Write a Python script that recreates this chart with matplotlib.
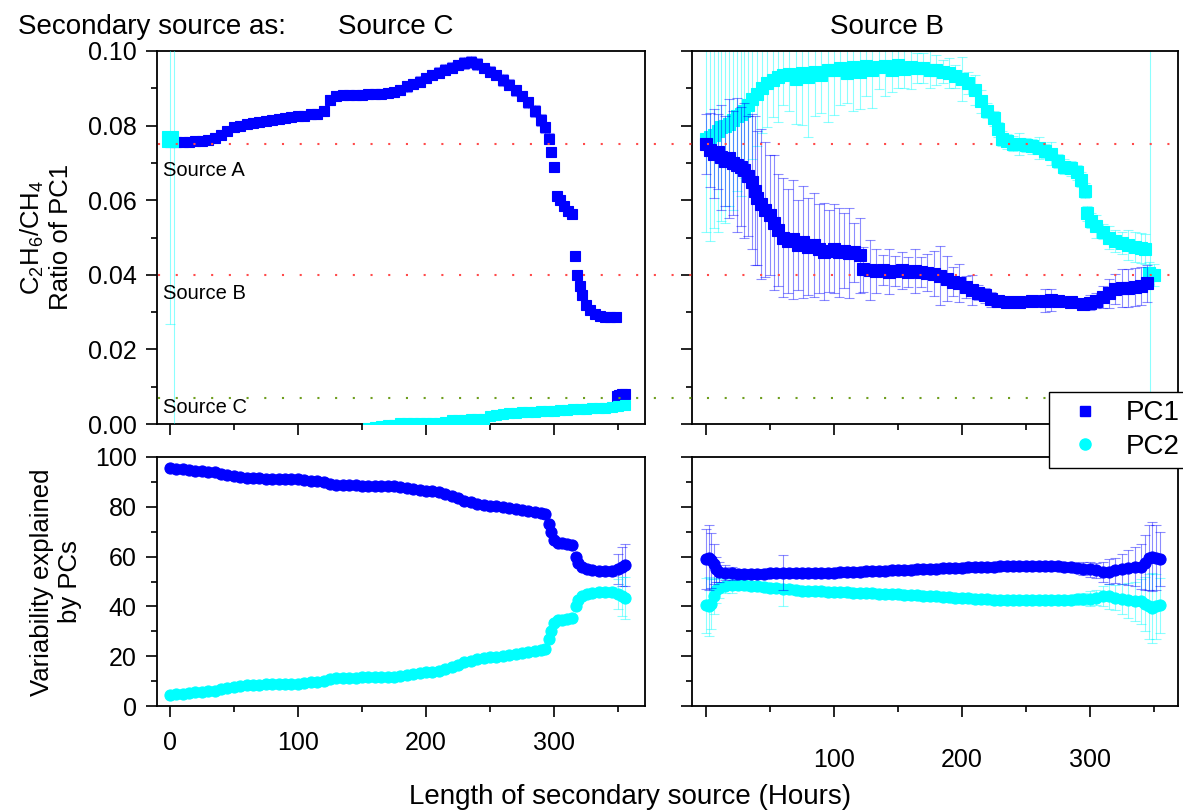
import numpy as np
import matplotlib
matplotlib.use('Agg')
import matplotlib.pyplot as plt
from matplotlib.ticker import MultipleLocator, FormatStrFormatter, FixedLocator, FixedFormatter
from matplotlib import transforms
from matplotlib.lines import Line2D

plt.rcParams['font.family'] = ['Liberation Sans', 'DejaVu Sans']
plt.rcParams['mathtext.fontset'] = 'custom'
plt.rcParams['mathtext.rm'] = 'Liberation Sans'
plt.rcParams['mathtext.it'] = 'Liberation Sans:italic'

# ---------------- data ----------------
panel_titles = ['Source C', 'Source B']
ref_values = [0.075, 0.040, 0.007]
ref_labels = ['Source A', 'Source B', 'Source C']
ref_colors = ['#FF4A4A', '#FF4A4A', '#6E9E1E']
legend_labels = ['PC1', 'PC2']

# top-left: secondary source = Source C
tl_pc1_x = [0, 5, 10, 15, 20, 25, 30, 35, 40, 45, 50, 55, 60, 65, 70, 75, 80, 85, 90, 95,
            100, 105, 110, 115, 120, 125, 130, 135, 140, 145, 150, 155, 160, 165, 170, 175, 180, 185, 190, 195,
            200, 205, 210, 215, 220, 225, 230, 235, 240, 245, 250, 255, 260, 265, 270, 275, 280, 285, 290,
            293, 296, 298, 300, 302, 305, 308, 311, 314, 316, 318, 320, 322, 325, 328, 332, 336, 340, 344, 348,
            349, 351, 353, 355]
tl_pc1_y = [0.0755, 0.0755, 0.0756, 0.0757, 0.0758, 0.0760, 0.0762, 0.0768, 0.0775, 0.0785, 0.0795, 0.0800,
            0.0805, 0.0808, 0.0810, 0.0813, 0.0815, 0.0818, 0.0820, 0.0823, 0.0825, 0.0827, 0.0830, 0.0832,
            0.0840, 0.0868, 0.0880, 0.0883, 0.0882, 0.0881, 0.0882, 0.0884, 0.0885, 0.0886, 0.0888, 0.0890,
            0.0895, 0.0905, 0.0912, 0.0918, 0.0928, 0.0935, 0.0942, 0.0950, 0.0955, 0.0962, 0.0968, 0.0970,
            0.0965, 0.0955, 0.0945, 0.0935, 0.0922, 0.0910, 0.0895, 0.0880, 0.0862, 0.0840, 0.0815,
            0.0795, 0.0765, 0.0730, 0.0690, 0.0610, 0.0600, 0.0585, 0.0570, 0.0562, 0.0450, 0.0400, 0.0370,
            0.0345, 0.0320, 0.0305, 0.0295, 0.0290, 0.0288, 0.0287, 0.0286,
            0.0075, 0.0078, 0.0080, 0.0080]
tl_pc1_err = [0.0008, 0.0008, 0.0009, 0.0008, 0.0010, 0.0009, 0.0010, 0.0011, 0.0012, 0.0011, 0.0012, 0.0012,
              0.0011, 0.0012, 0.0010, 0.0011, 0.0012, 0.0010, 0.0011, 0.0012, 0.0011, 0.0012, 0.0012, 0.0013,
              0.0013, 0.0014, 0.0012, 0.0011, 0.0012, 0.0011, 0.0012, 0.0011, 0.0012, 0.0012, 0.0011, 0.0012,
              0.0013, 0.0014, 0.0013, 0.0014, 0.0013, 0.0014, 0.0015, 0.0014, 0.0015, 0.0014, 0.0015, 0.0016,
              0.0015, 0.0014, 0.0015, 0.0014, 0.0015, 0.0014, 0.0015, 0.0014, 0.0015, 0.0016, 0.0015,
              0.0015, 0.0014, 0.0012, 0.0010, 0.0010, 0.0010, 0.0010, 0.0010, 0.0009, 0.0008, 0.0008, 0.0008,
              0.0008, 0.0008, 0.0008, 0.0008, 0.0008, 0.0008, 0.0008, 0.0008,
              0.0006, 0.0006, 0.0006, 0.0006]

tl_pc2_x = [0, 3, 155, 160, 165, 170, 175, 180, 185, 190, 195, 200, 205, 210, 215, 220, 225, 230, 235, 240,
            245, 250, 255, 260, 265, 270, 275, 280, 285, 290, 295, 300, 305, 310, 315, 320, 325, 330, 335,
            340, 345, 350, 355]
tl_pc2_y = [0.0765, -0.0200, -0.0010, -0.0008, -0.0006, -0.0004, -0.0002, 0.0002, 0.0002, 0.0003, 0.0003,
            0.0003, 0.0004, 0.0004, 0.0005, 0.0010, 0.0011, 0.0012, 0.0013, 0.0013, 0.0013, 0.0022, 0.0025,
            0.0027, 0.0029, 0.0030, 0.0031, 0.0032, 0.0033, 0.0034, 0.0035, 0.0036, 0.0037, 0.0038, 0.0039,
            0.0040, 0.0041, 0.0042, 0.0043, 0.0044, 0.0046, 0.0049, 0.0051]
tl_pc2_err = [0.0498, 0.2000, 0.0003, 0.0003, 0.0003, 0.0003, 0.0003, 0.0003, 0.0003, 0.0003, 0.0003,
              0.0003, 0.0003, 0.0003, 0.0003, 0.0003, 0.0003, 0.0003, 0.0003, 0.0003, 0.0003, 0.0003, 0.0003,
              0.0003, 0.0003, 0.0003, 0.0003, 0.0003, 0.0003, 0.0003, 0.0003, 0.0003, 0.0003, 0.0003, 0.0003,
              0.0003, 0.0003, 0.0003, 0.0003, 0.0003, 0.0003, 0.0003, 0.0003]

# top-right: secondary source = Source B
tr_pc1_x = [0, 3, 6, 9, 12, 15, 18, 21, 24, 27, 30, 33, 36,
            38, 40, 43, 46, 50, 53, 56,
            60, 64, 68, 72, 76, 80, 84, 88, 92, 96, 100, 104, 108, 112, 116, 120,
            123,
            128, 133, 138, 143, 148, 153, 158, 163, 168, 173, 178, 183, 188, 193, 198, 203, 208, 213, 218, 223, 228,
            235, 245, 255, 265, 270, 275, 285, 295,
            300, 305, 310, 315, 320, 325, 330, 335, 340, 345]
tr_pc1_y = [0.0750, 0.0735, 0.0725, 0.0730, 0.0715, 0.0705, 0.0712, 0.0700, 0.0695, 0.0690, 0.0680, 0.0665, 0.0650,
            0.0625, 0.0605, 0.0590, 0.0575, 0.0560, 0.0540, 0.0520,
            0.0500, 0.0490, 0.0495, 0.0480, 0.0488, 0.0475, 0.0480, 0.0470, 0.0462, 0.0465, 0.0470, 0.0460,
            0.0465, 0.0458, 0.0460, 0.0452,
            0.0415,
            0.0412, 0.0410, 0.0412, 0.0408, 0.0410, 0.0412, 0.0408, 0.0410, 0.0408, 0.0406, 0.0403, 0.0398,
            0.0390, 0.0382, 0.0378, 0.0368, 0.0360, 0.0352, 0.0345, 0.0335, 0.0330,
            0.0328, 0.0328, 0.0330, 0.0331, 0.0332, 0.0330, 0.0328, 0.0323,
            0.0325, 0.0330, 0.0340, 0.0350, 0.0362, 0.0365, 0.0365, 0.0367, 0.0370, 0.0377]
tr_pc1_err = [0.008, 0.010, 0.012, 0.010, 0.014, 0.012, 0.016, 0.014, 0.018, 0.016, 0.018, 0.016, 0.018,
              0.020, 0.018, 0.020, 0.018, 0.016, 0.018, 0.015,
              0.016, 0.014, 0.016, 0.012, 0.015, 0.013, 0.014, 0.012, 0.013, 0.011, 0.012, 0.012, 0.010,
              0.012, 0.008, 0.010,
              0.006,
              0.008, 0.006, 0.004, 0.006, 0.004, 0.005, 0.004, 0.006, 0.004, 0.005, 0.006, 0.008, 0.006,
              0.004, 0.005, 0.003, 0.004, 0.002, 0.002, 0.002, 0.001,
              0.001, 0.001, 0.001, 0.003, 0.003, 0.001, 0.001, 0.001,
              0.002, 0.002, 0.003, 0.004, 0.004, 0.005, 0.005, 0.005, 0.005, 0.005]

tr_pc2_x = [0, 3, 6, 9, 12, 15, 18, 21, 24, 27, 30, 33, 36,
            40, 44, 48, 52, 56,
            60, 65, 70, 75, 80, 85, 90, 95, 100, 105, 110, 115, 120, 125, 130, 135, 140, 145, 150, 155,
            160, 165, 170, 175, 180, 185, 190, 195, 200, 205, 210, 215, 220, 225,
            228, 231,
            235, 240, 245, 250, 255, 260, 265, 270, 275, 280, 285, 290,
            293, 296, 298, 301,
            305, 310, 315, 320, 325, 330, 335, 340,
            343, 346, 347, 350]
tr_pc2_y = [0.0765, 0.0770, 0.0775, 0.0785, 0.0795, 0.0800, 0.0805, 0.0815, 0.0825, 0.0830, 0.0840, 0.0855, 0.0870,
            0.0885, 0.0900, 0.0915, 0.0922, 0.0930,
            0.0935, 0.0938, 0.0925, 0.0942, 0.0930, 0.0945, 0.0935, 0.0950, 0.0948, 0.0955, 0.0940, 0.0958,
            0.0945, 0.0960, 0.0948, 0.0958, 0.0960, 0.0950, 0.0962, 0.0952, 0.0958, 0.0955, 0.0955, 0.0950,
            0.0948, 0.0945, 0.0940, 0.0932, 0.0925, 0.0915, 0.0895, 0.0865, 0.0840, 0.0820,
            0.0790, 0.0765,
            0.0758, 0.0752, 0.0750, 0.0748, 0.0745, 0.0740, 0.0732, 0.0725, 0.0705, 0.0690, 0.0685, 0.0675,
            0.0655, 0.0625, 0.0565, 0.0545,
            0.0530, 0.0515, 0.0500, 0.0490, 0.0485, 0.0480, 0.0475, 0.0472,
            0.0470, 0.0405, 0.0400, 0.0400]
tr_pc2_err = [0.025, 0.028, 0.025, 0.027, 0.025, 0.026, 0.022, 0.024, 0.020, 0.022, 0.018, 0.020, 0.016,
              0.014, 0.012, 0.012, 0.010, 0.012,
              0.008, 0.010, 0.012, 0.014, 0.016, 0.012, 0.010, 0.014, 0.012, 0.010, 0.008, 0.012, 0.010,
              0.008, 0.010, 0.006, 0.008, 0.006, 0.006, 0.005, 0.006, 0.004, 0.004, 0.005, 0.004, 0.003,
              0.004, 0.003, 0.006, 0.003, 0.004, 0.003, 0.002, 0.002,
              0.002, 0.002,
              0.002, 0.002, 0.003, 0.002, 0.002, 0.003, 0.002, 0.003, 0.002, 0.002, 0.002, 0.002,
              0.002, 0.002, 0.002, 0.002,
              0.003, 0.002, 0.003, 0.003, 0.003, 0.004, 0.004, 0.004,
              0.004, 0.003, 0.120, 0.003]

# bottom-left: variability explained, Source C
bl_x = [0, 5, 10, 15, 20, 25, 30, 35, 40, 45, 50, 55, 60, 65, 70, 75, 80, 85, 90, 95,
        100, 105, 110, 115, 120, 125, 130, 135, 140, 145, 150, 155, 160, 165, 170, 175, 180, 185, 190, 195,
        200, 205, 210, 215, 220, 225, 230, 235, 240, 245, 250, 255, 260, 265, 270, 275, 280, 285, 290,
        293, 296, 298, 300, 303, 306, 310, 314, 317, 319, 322, 326, 330, 335, 340, 345, 350, 353, 355]
bl_pc1 = [95.5, 95.3, 95.0, 94.8, 94.5, 94.3, 94.0, 93.8, 93.2, 92.8, 92.3, 91.8, 91.5, 91.5, 91.4, 91.3,
          91.3, 91.2, 91.2, 91.1, 91.0, 90.8, 90.5, 90.3, 90.0, 89.2, 88.8, 88.7, 88.6, 88.6, 88.5, 88.5,
          88.5, 88.4, 88.4, 88.2, 88.0, 87.5, 87.2, 86.8, 86.5, 86.2, 85.8, 85.2, 84.5, 83.5, 82.5, 81.8,
          81.2, 80.8, 80.5, 80.2, 80.0, 79.5, 79.0, 78.8, 78.5, 78.0, 77.5,
          77.0, 73.0, 70.0, 66.5, 65.5, 65.3, 65.0, 64.5, 60.0, 57.5, 56.0, 55.0, 54.5, 54.3, 54.2, 54.3,
          55.0, 56.0, 56.5]
bl_pc2 = [4.5, 4.7, 5.0, 5.2, 5.5, 5.7, 6.0, 6.2, 6.8, 7.2, 7.7, 8.2, 8.5, 8.5, 8.6, 8.7,
          8.7, 8.8, 8.8, 8.9, 9.0, 9.2, 9.5, 9.7, 10.0, 10.8, 11.2, 11.3, 11.4, 11.4, 11.5, 11.5,
          11.5, 11.6, 11.6, 11.8, 12.0, 12.5, 12.8, 13.2, 13.5, 13.8, 14.2, 14.8, 15.5, 16.5, 17.5, 18.2,
          18.8, 19.2, 19.5, 19.8, 20.0, 20.5, 21.0, 21.2, 21.5, 22.0, 22.5,
          23.0, 27.0, 30.0, 33.5, 34.5, 34.7, 35.0, 35.5, 40.0, 42.5, 44.0, 45.0, 45.5, 45.7, 45.8, 45.7,
          45.0, 44.0, 43.5]
bl_err = [0.4, 0.4, 0.4, 0.4, 0.4, 0.4, 0.4, 0.4, 0.4, 0.4, 0.4, 0.4, 0.4, 0.4, 0.4, 0.4,
          0.4, 0.4, 0.4, 0.4, 0.4, 0.4, 0.4, 0.4, 0.4, 0.4, 0.4, 0.4, 0.4, 0.4, 0.4, 0.4,
          0.4, 0.4, 0.4, 0.4, 0.4, 0.4, 0.4, 0.4, 0.4, 0.4, 0.4, 0.4, 0.4, 0.4, 0.4, 0.4,
          0.4, 0.4, 0.4, 0.4, 0.4, 0.4, 0.4, 0.4, 0.4, 0.4, 0.4,
          0.4, 0.5, 0.5, 0.5, 0.5, 0.5, 0.5, 0.5, 0.6, 0.6, 0.6, 0.5, 0.5, 0.8, 1.0, 2.0,
          6.0, 8.0, 8.5]

# bottom-right: variability explained, Source B
br_x = [0, 2, 4, 6, 8,
        10, 15, 20, 25, 30, 35, 40, 45, 50, 55, 60, 65, 70, 75, 80, 85, 90, 95,
        100, 105, 110, 115, 120, 125, 130, 135, 140, 145, 150, 155, 160, 165, 170, 175, 180, 185, 190, 195,
        200, 205, 210, 215, 220, 225, 230, 235, 240, 245, 250, 255, 260, 265, 270, 275, 280, 285, 290, 295,
        300,
        305, 310, 315, 320, 325, 330, 335, 340,
        343, 346, 349, 352, 355]
br_pc1 = [59.0, 59.5, 58.5, 57.0, 55.0,
          54.0, 53.5, 53.3, 53.2, 53.2, 53.2, 53.2, 53.2, 53.3, 53.4, 53.5, 53.4, 53.4, 53.4, 53.4, 53.5,
          53.5, 53.5,
          53.6, 53.7, 53.8, 53.9, 54.0, 54.1, 54.2, 54.3, 54.4, 54.5, 54.6, 54.7, 54.8, 54.9, 55.0, 55.1,
          55.2, 55.3, 55.4, 55.5,
          55.6, 55.7, 55.8, 55.9, 56.0, 56.0, 56.1, 56.1, 56.2, 56.2, 56.2, 56.2, 56.2, 56.2, 56.2, 56.1,
          56.0, 55.8, 55.5, 55.2,
          55.0,
          54.5, 54.0, 54.0, 54.5, 55.0, 55.5, 56.0, 56.0,
          57.5, 59.5, 60.0, 59.5, 59.0]
br_pc1_err = [12, 13, 11, 8, 5,
              4, 3, 2.5, 2, 2, 2, 2, 2, 2, 2, 7, 2, 2, 2, 2, 2, 2, 2,
              2, 2, 2, 2, 2, 2, 2, 2, 2, 2, 2, 2, 2, 2, 2, 2, 2, 2, 2, 2,
              2, 2, 2, 2, 2, 2, 2, 2, 2, 2, 2, 2, 2, 2, 2, 2, 2, 2, 2, 2.5,
              3,
              3, 4, 5, 5, 6, 7, 8, 9,
              11, 13, 14, 13, 11]
br_pc2 = [40.5, 40.0, 41.0, 44.0, 46.5,
          47.5, 48.2, 48.5, 48.5, 48.5, 48.3, 48.2, 47.8, 47.5, 47.2, 47.0, 46.8, 46.5, 46.3, 46.2, 46.1,
          46.0, 45.9,
          45.8, 45.7, 45.6, 45.5, 45.4, 45.3, 45.2, 45.1, 45.0, 44.9, 44.8, 44.7, 44.6, 44.4, 44.3, 44.1,
          44.0, 43.8, 43.7, 43.5,
          43.4, 43.2, 43.1, 42.9, 42.8, 42.7, 42.6, 42.5, 42.5, 42.5, 42.5, 42.5, 42.5, 42.5, 42.5, 42.6,
          42.6, 42.7, 42.8, 42.9,
          43.0,
          43.5, 44.0, 44.0, 43.5, 43.0, 42.5, 42.0, 42.0,
          41.0, 40.0, 39.5, 40.0, 40.5]
br_pc2_err = [11, 12, 10, 7, 5,
              4, 3, 3, 2, 2, 2, 2, 2, 2, 2, 7, 2, 2, 2, 2, 2, 2, 2,
              2, 2, 2, 2, 2, 2, 2, 2, 2, 2, 2, 2, 2, 2, 2, 2, 2, 2, 2, 2,
              2, 2, 2, 2, 2, 2, 2, 2, 2, 2, 2, 2, 2, 2, 2, 2, 2, 2, 2, 2.5,
              3,
              3, 4, 5, 5, 6, 7, 8, 9,
              11, 13, 14, 13, 11]

# ---------------- figure ----------------
W, H = 1183, 811
fig = plt.figure(figsize=(W / 100, H / 100), dpi=100)


def box(l, t, r, b):
    return [l / W, 1 - b / H, (r - l) / W, (b - t) / H]


ax_tl = fig.add_axes(box(157, 51, 645, 424))
ax_tr = fig.add_axes(box(692, 51, 1178, 424))
ax_bl = fig.add_axes(box(157, 457, 645, 706))
ax_br = fig.add_axes(box(692, 457, 1178, 706))

BLUE = '#0000FF'
CYAN = '#00FFFF'


def series(ax, x, y, e, color, marker, ms, z):
    ax.errorbar(x, y, yerr=e, fmt='none', ecolor=color, elinewidth=0.8, capsize=3.6,
                capthick=0.8, alpha=0.45, zorder=z)
    ax.plot(x, y, linestyle='none', marker=marker, ms=ms, color=color, mec=color, mew=0.8,
            zorder=z + 1)


series(ax_tl, tl_pc1_x, tl_pc1_y, tl_pc1_err, BLUE, 's', 7.5, 2)
series(ax_tl, tl_pc2_x[:1], tl_pc2_y[:1], tl_pc2_err[:1], CYAN, 's', 11, 4)
series(ax_tl, tl_pc2_x[1:], tl_pc2_y[1:], tl_pc2_err[1:], CYAN, 's', 7.5, 4)

series(ax_tr, tr_pc2_x, tr_pc2_y, tr_pc2_err, CYAN, 's', 8, 2)
series(ax_tr, tr_pc1_x, tr_pc1_y, tr_pc1_err, BLUE, 's', 8, 4)

series(ax_bl, bl_x, bl_pc1, bl_err, BLUE, 'o', 8, 2)
series(ax_bl, bl_x, bl_pc2, bl_err, CYAN, 'o', 8, 4)

series(ax_br, br_x, br_pc2, br_pc2_err, CYAN, 'o', 8, 2)
series(ax_br, br_x, br_pc1, br_pc1_err, BLUE, 'o', 8, 4)

# axes formatting
for ax in (ax_tl, ax_tr, ax_bl, ax_br):
    ax.xaxis.set_major_locator(MultipleLocator(100))
    ax.xaxis.set_minor_locator(MultipleLocator(50))
    ax.tick_params(which='major', direction='out', length=8, width=1.2, labelsize=18, pad=6.5)
    ax.tick_params(which='minor', direction='out', length=4, width=1.2)
    ax.tick_params(top=False, right=False)
    for s in ax.spines.values():
        s.set_linewidth(1.3)

ax_tl.set_xlim(-10, 371)
ax_bl.set_xlim(-10, 371)
ax_tr.set_xlim(-11, 369)
ax_br.set_xlim(-11, 369)

for ax in (ax_tl, ax_tr):
    ax.set_ylim(0, 0.1)
    ax.yaxis.set_major_locator(MultipleLocator(0.02))
    ax.yaxis.set_minor_locator(MultipleLocator(0.01))
    ax.yaxis.set_major_formatter(FormatStrFormatter('%.2f'))
    ax.tick_params(labelbottom=False)
for ax in (ax_bl, ax_br):
    ax.set_ylim(0, 100)
    ax.yaxis.set_major_locator(MultipleLocator(20))
    ax.yaxis.set_minor_locator(MultipleLocator(10))

ax_tr.tick_params(labelleft=False)
ax_br.tick_params(labelleft=False)
ax_bl.tick_params(axis='x', which='major', pad=10)
ax_br.xaxis.set_major_locator(FixedLocator([0, 100, 200, 300]))
ax_br.xaxis.set_major_formatter(FixedFormatter(['', '100', '200', '300']))
ax_br.tick_params(axis='x', which='major', pad=22)

# reference ratio lines across both top panels
trans = transforms.blended_transform_factory(fig.transFigure, ax_tl.transData)
for yv, c in zip(ref_values, ref_colors):
    fig.add_artist(Line2D([158 / W, 1178 / W], [yv, yv], transform=trans, color=c, lw=1.5,
                          ls=(0, (1, 7.5)), zorder=5))

ref_text_y = [0.0679, 0.0350, 0.00455]
for yv, lab in zip(ref_text_y, ref_labels):
    ax_tl.text(-5.5, yv, lab, fontsize=14.5, ha='left', va='center', zorder=6)

# titles and labels
fig.text(18 / W, 1 - 27 / H, 'Secondary source as:', fontsize=20, ha='left', va='center')
fig.text(396 / W, 1 - 27 / H, panel_titles[0], fontsize=20, ha='center', va='center')
fig.text(887 / W, 1 - 27 / H, panel_titles[1], fontsize=20, ha='center', va='center')

fig.text(46 / W, 1 - 237 / H, 'C$_2$H$_6$/CH$_4$\nRatio of PC1', fontsize=18.5, rotation=90,
         ha='center', va='center', multialignment='center')
fig.text(56 / W, 1 - 582 / H, 'Variability explained\nby PCs', fontsize=18.5, rotation=90,
         ha='center', va='center', multialignment='center')
fig.text(630 / W, 1 - 797 / H, 'Length of secondary source (Hours)', fontsize=20,
         ha='center', va='center')

handles = [Line2D([], [], ls='none', marker='s', color=BLUE, ms=7),
           Line2D([], [], ls='none', marker='o', color=CYAN, ms=8)]
leg = fig.legend(handles, legend_labels, loc='upper left', bbox_to_anchor=(1049 / W, 1 - 392 / H),
                 fontsize=20, frameon=True, fancybox=False, edgecolor='black', framealpha=1,
                 borderpad=0.3, handlelength=2.0, handletextpad=0.45, labelspacing=0.28,
                 borderaxespad=0)
leg.get_frame().set_linewidth(1.0)
leg.set_zorder(10)

fig.savefig('out.png', dpi=100)
